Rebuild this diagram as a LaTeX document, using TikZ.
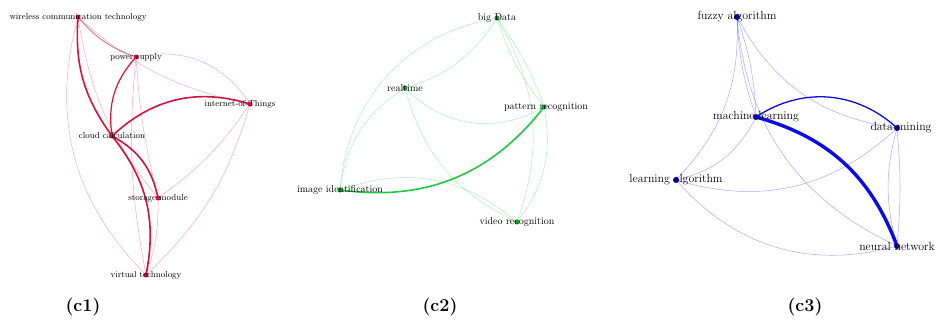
\documentclass[tikz,border=0pt]{standalone}
\definecolor{netred}{RGB}{212,18,62}
\definecolor{netgreen}{RGB}{30,200,70}
\definecolor{netblue}{RGB}{10,10,230}
\definecolor{dotblue}{RGB}{10,10,160}
\tikzset{
  kw/.style={font=\fontsize{8.7}{9}\selectfont, inner sep=0pt, text=black},
  dot/.style={circle, fill, inner sep=0pt, minimum size=5pt},
  panel/.style={font=\fontsize{18}{20}\selectfont\bfseries, inner sep=0pt},
  weak/.style={line width=0.5pt, draw opacity=0.35},
  fair/.style={line width=0.9pt, draw opacity=0.6},
  strong/.style={line width=1.6pt},
  heavy/.style={line width=3.4pt}
}
\begin{document}
\begin{tikzpicture}[x=1pt,y=-1pt]
  \useasboundingbox (0,0) rectangle (936,322);
  % (c1)
  \coordinate (wct) at (78,17);
  \coordinate (ps) at (136,57);
  \coordinate (iot) at (250,104);
  \coordinate (cc) at (112,136);
  \coordinate (sm) at (158,198);
  \coordinate (vt) at (146,275);
  \begin{scope}[netred]
    \draw[weak] (wct) to[bend right=30] (vt);
    \draw[weak] (wct) to[bend right=15] (sm);
    \draw[weak] (wct) to[bend right=15] (iot);
    \draw[weak] (ps) to[bend left=35] (iot);
    \draw[weak] (ps) to[bend right=5] (sm);
    \draw[weak] (ps) to[bend right=8] (vt);
    \draw[weak] (iot) to[bend left=10] (sm);
    \draw[weak] (iot) to[bend left=15] (vt);
    \draw[weak] (sm) to[bend left=10] (vt);
    \draw[fair] (wct) to[bend right=15] (ps);
    \draw[line width=1.2pt] (ps) to[bend right=25] (cc);
    \draw[strong] (wct) to[bend right=20] (cc);
    \draw[strong] (cc) to[bend left=30] (iot);
    \draw[strong] (cc) to[bend left=25] (sm);
    \draw[strong] (cc) to[bend left=25] (vt);
  \end{scope}
  % (c2)
  \coordinate (bd) at (497,18);
  \coordinate (rt) at (405,88);
  \coordinate (pr) at (544,107);
  \coordinate (ii) at (340,190);
  \coordinate (vr) at (517,222);
  \begin{scope}[netgreen]
    \draw[weak] (bd) to[bend left=20] (rt);
    \draw[weak] (bd) to[bend right=38] (ii);
    \draw[weak] (bd) to[bend right=10] (pr);
    \draw[weak] (bd) to[bend left=8] (pr);
    \draw[weak] (bd) to[bend left=25] (vr);
    \draw[weak] (rt) to[bend right=38] (pr);
    \draw[weak] (rt) to[bend right=25] (vr);
    \draw[weak] (rt) to[bend right=25] (ii);
    \draw[weak] (pr) to[bend left=24] (vr);
    \draw[weak] (ii) to[bend left=30] (vr);
    \draw[strong] (pr) to[bend left=30] (ii);
  \end{scope}
  % (c3)
  \coordinate (fa) at (737,17);
  \coordinate (ml) at (756,117);
  \coordinate (dm) at (897,128);
  \coordinate (la) at (676,180);
  \coordinate (nn) at (897,246);
  \begin{scope}[netblue]
    \draw[weak] (fa) to[bend left=8] (ml);
    \draw[weak] (fa) to[bend right=8] (ml);
    \draw[weak] (fa) to[bend left=23] (la);
    \draw[weak] (fa) to[bend right=27] (dm);
    \draw[weak] (fa) to[bend right=30] (nn);
    \draw[weak] (ml) to[bend left=25] (la);
    \draw[weak] (la) to[bend right=30] (dm);
    \draw[weak] (la) to[bend right=32] (nn);
    \draw[weak] (dm) to[bend right=15] (nn);
    \draw[weak] (dm) to[bend left=5] (nn);
    \draw[line width=1.3pt] (ml) to[bend left=38] (dm);
    \draw[heavy] (ml) to[bend left=27] (nn);
  \end{scope}
  % dots and labels
  \foreach \p/\t/\dx in {wct/wireless communication technology/0, ps/power supply/0,
      iot/internet-of-Things/-10, cc/cloud calculation/0, sm/storage module/0,
      vt/virtual technology/0} {
    \node[dot, netred] (\p-d) at (\p) {};
    \node[kw] (\p-t) at ([xshift=\dx pt]\p) {\t};
  }
  \foreach \p/\t/\dx in {bd/big Data/0, rt/realtime/0, pr/pattern recognition/2,
      ii/image identification/0, vr/video recognition/0} {
    \node[dot, netgreen!80!black] (\p-d) at (\p) {};
    \node[kw, font=\fontsize{10}{11}\selectfont] (\p-t) at ([xshift=\dx pt]\p) {\t};
  }
  \foreach \p/\t/\dx in {fa/fuzzy algorithm/0, ml/machine learning/0, dm/data mining/4,
      la/learning algorithm/0, nn/neural network/0} {
    \node[dot, dotblue, minimum size=6pt] (\p-d) at (\p) {};
    \node[kw, font=\fontsize{11.8}{12}\selectfont] (\p-t) at ([xshift=\dx pt]\p) {\t};
  }
  \node[panel] (c1) at (83,307) {(c1)};
  \node[panel] (c2) at (440,307) {(c2)};
  \node[panel] (c3) at (805,307) {(c3)};
\end{tikzpicture}
\end{document}
